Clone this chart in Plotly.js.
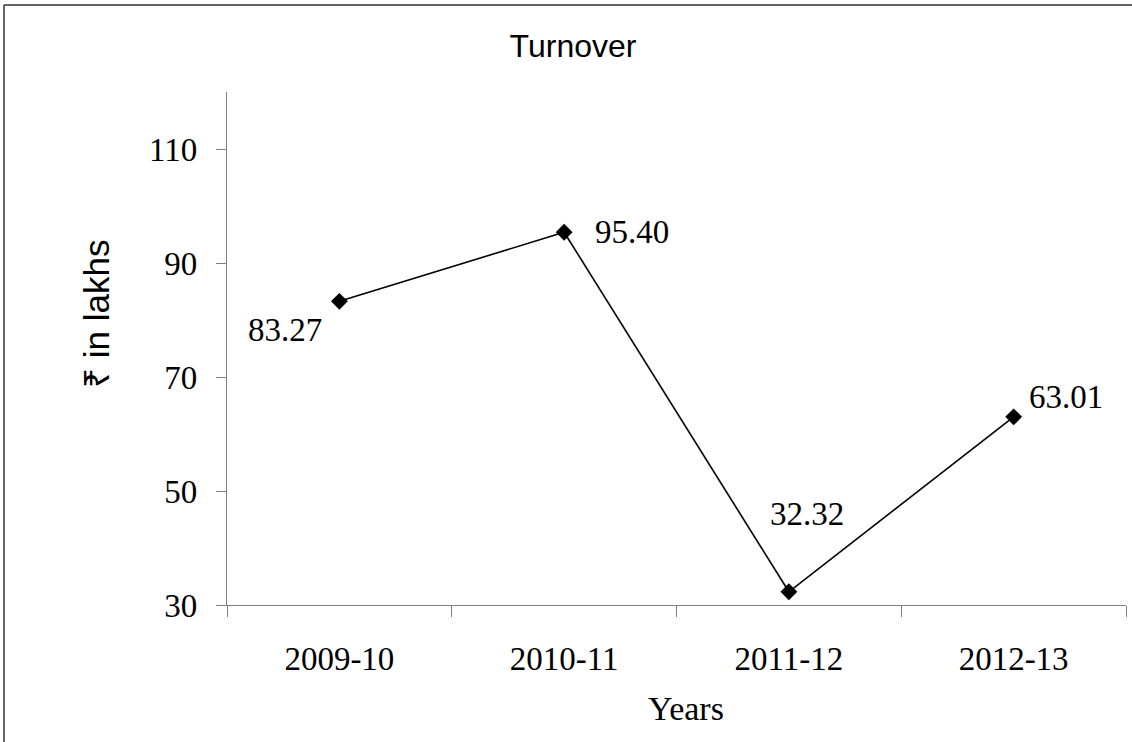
<!DOCTYPE html>
<html>
<head>
<meta charset="utf-8">
<script src="https://cdn.plot.ly/plotly-3.0.1.min.js"></script>
<style>
html,body{margin:0;padding:0;background:#fff;overflow:hidden;}
#chart{width:1132px;height:742px;}
</style>
</head>
<body>
<div id="chart"></div>
<script>
const categories = ["2009-10", "2010-11", "2011-12", "2012-13"];
const turnover = [83.27, 95.40, 32.32, 63.01];
const valueLabels = ["83.27", "95.40", "32.32", "63.01"];
const yTicks = [30, 50, 70, 90, 110];
const chartTitle = "Turnover";
const xTitle = "Years";
const yTitle = "₹ in lakhs";

// label offsets (px) relative to each point
const labelShiftX = [-54, 68, 18, 52];
const labelShiftY = [-29, 0, 78, 20];

const serif = "Liberation Serif, Times New Roman, serif";
const sans = "Liberation Sans, Arial, sans-serif";

const trace = {
  type: "scatter",
  mode: "lines+markers",
  x: categories,
  y: turnover,
  line: {color: "#000", width: 1.6},
  marker: {symbol: "diamond", size: 13, color: "#000"},
  hoverinfo: "x+y"
};

const annotations = categories.map((c, i) => ({
  x: c, y: turnover[i], xref: "x", yref: "y",
  text: valueLabels[i], showarrow: false,
  xshift: labelShiftX[i], yshift: labelShiftY[i],
  font: {family: serif, size: 33, color: "#000"}
}));
annotations.push({
  text: yTitle, xref: "paper", yref: "paper",
  x: (96 - 227) / 899, y: (605 - 314) / 513, xanchor: "center", yanchor: "middle",
  textangle: -90, showarrow: false,
  font: {family: sans, size: 35, color: "#000"}
});
annotations.push({
  text: xTitle, xref: "paper", yref: "paper",
  x: (686 - 227) / 899, y: (605 - 708) / 513, xanchor: "center", yanchor: "middle",
  showarrow: false,
  font: {family: serif, size: 34, color: "#000"}
});

const layout = {
  width: 1132, height: 742,
  margin: {l: 227, r: 6, t: 92, b: 137},
  paper_bgcolor: "#fff", plot_bgcolor: "#fff",
  showlegend: false,
  title: {
    text: chartTitle, x: 573 / 1132, xref: "container", y: 1 - 46 / 742, yref: "container",
    xanchor: "center", yanchor: "middle",
    font: {family: sans, size: 32, color: "#000"}
  },
  xaxis: {
    type: "category", range: [-0.5, 3.5],
    tickson: "boundaries", ticks: "outside", ticklen: 11, tickcolor: "#808080", tickwidth: 1,
    showline: true, linecolor: "#808080", linewidth: 1.2,
    showgrid: false, zeroline: false,
    tickfont: {family: serif, size: 33, color: "#000"},
    ticklabelstandoff: 24
  },
  yaxis: {
    range: [30, 120], tickvals: yTicks, ticktext: yTicks.map(String),
    ticks: "outside", ticklen: 10, tickcolor: "#808080", tickwidth: 1,
    showline: true, linecolor: "#808080", linewidth: 1.2,
    showgrid: false, zeroline: false,
    tickfont: {family: serif, size: 33, color: "#000"},
    ticklabelstandoff: 12
  },
  annotations: annotations,
  shapes: [
    {type: "line", xref: "paper", yref: "paper",
     x0: (4 - 227) / 899, x1: (1200 - 227) / 899, y0: (605 - 5) / 513, y1: (605 - 5) / 513,
     line: {color: "#333", width: 1.5}, layer: "below"},
    {type: "line", xref: "paper", yref: "paper",
     x0: (4 - 227) / 899, x1: (4 - 227) / 899, y0: (605 - 5) / 513, y1: (605 - 800) / 513,
     line: {color: "#333", width: 1.5}, layer: "below"},
    {type: "rect", xref: "paper", yref: "paper",
     x0: (1128 - 227) / 899, x1: (1150 - 227) / 899, y0: (605 - 7) / 513, y1: (605 - 800) / 513,
     line: {width: 0}, fillcolor: "#fff", layer: "above"}
  ]
};

Plotly.newPlot("chart", [trace], layout, {displayModeBar: false, staticPlot: true});
</script>
</body>
</html>
